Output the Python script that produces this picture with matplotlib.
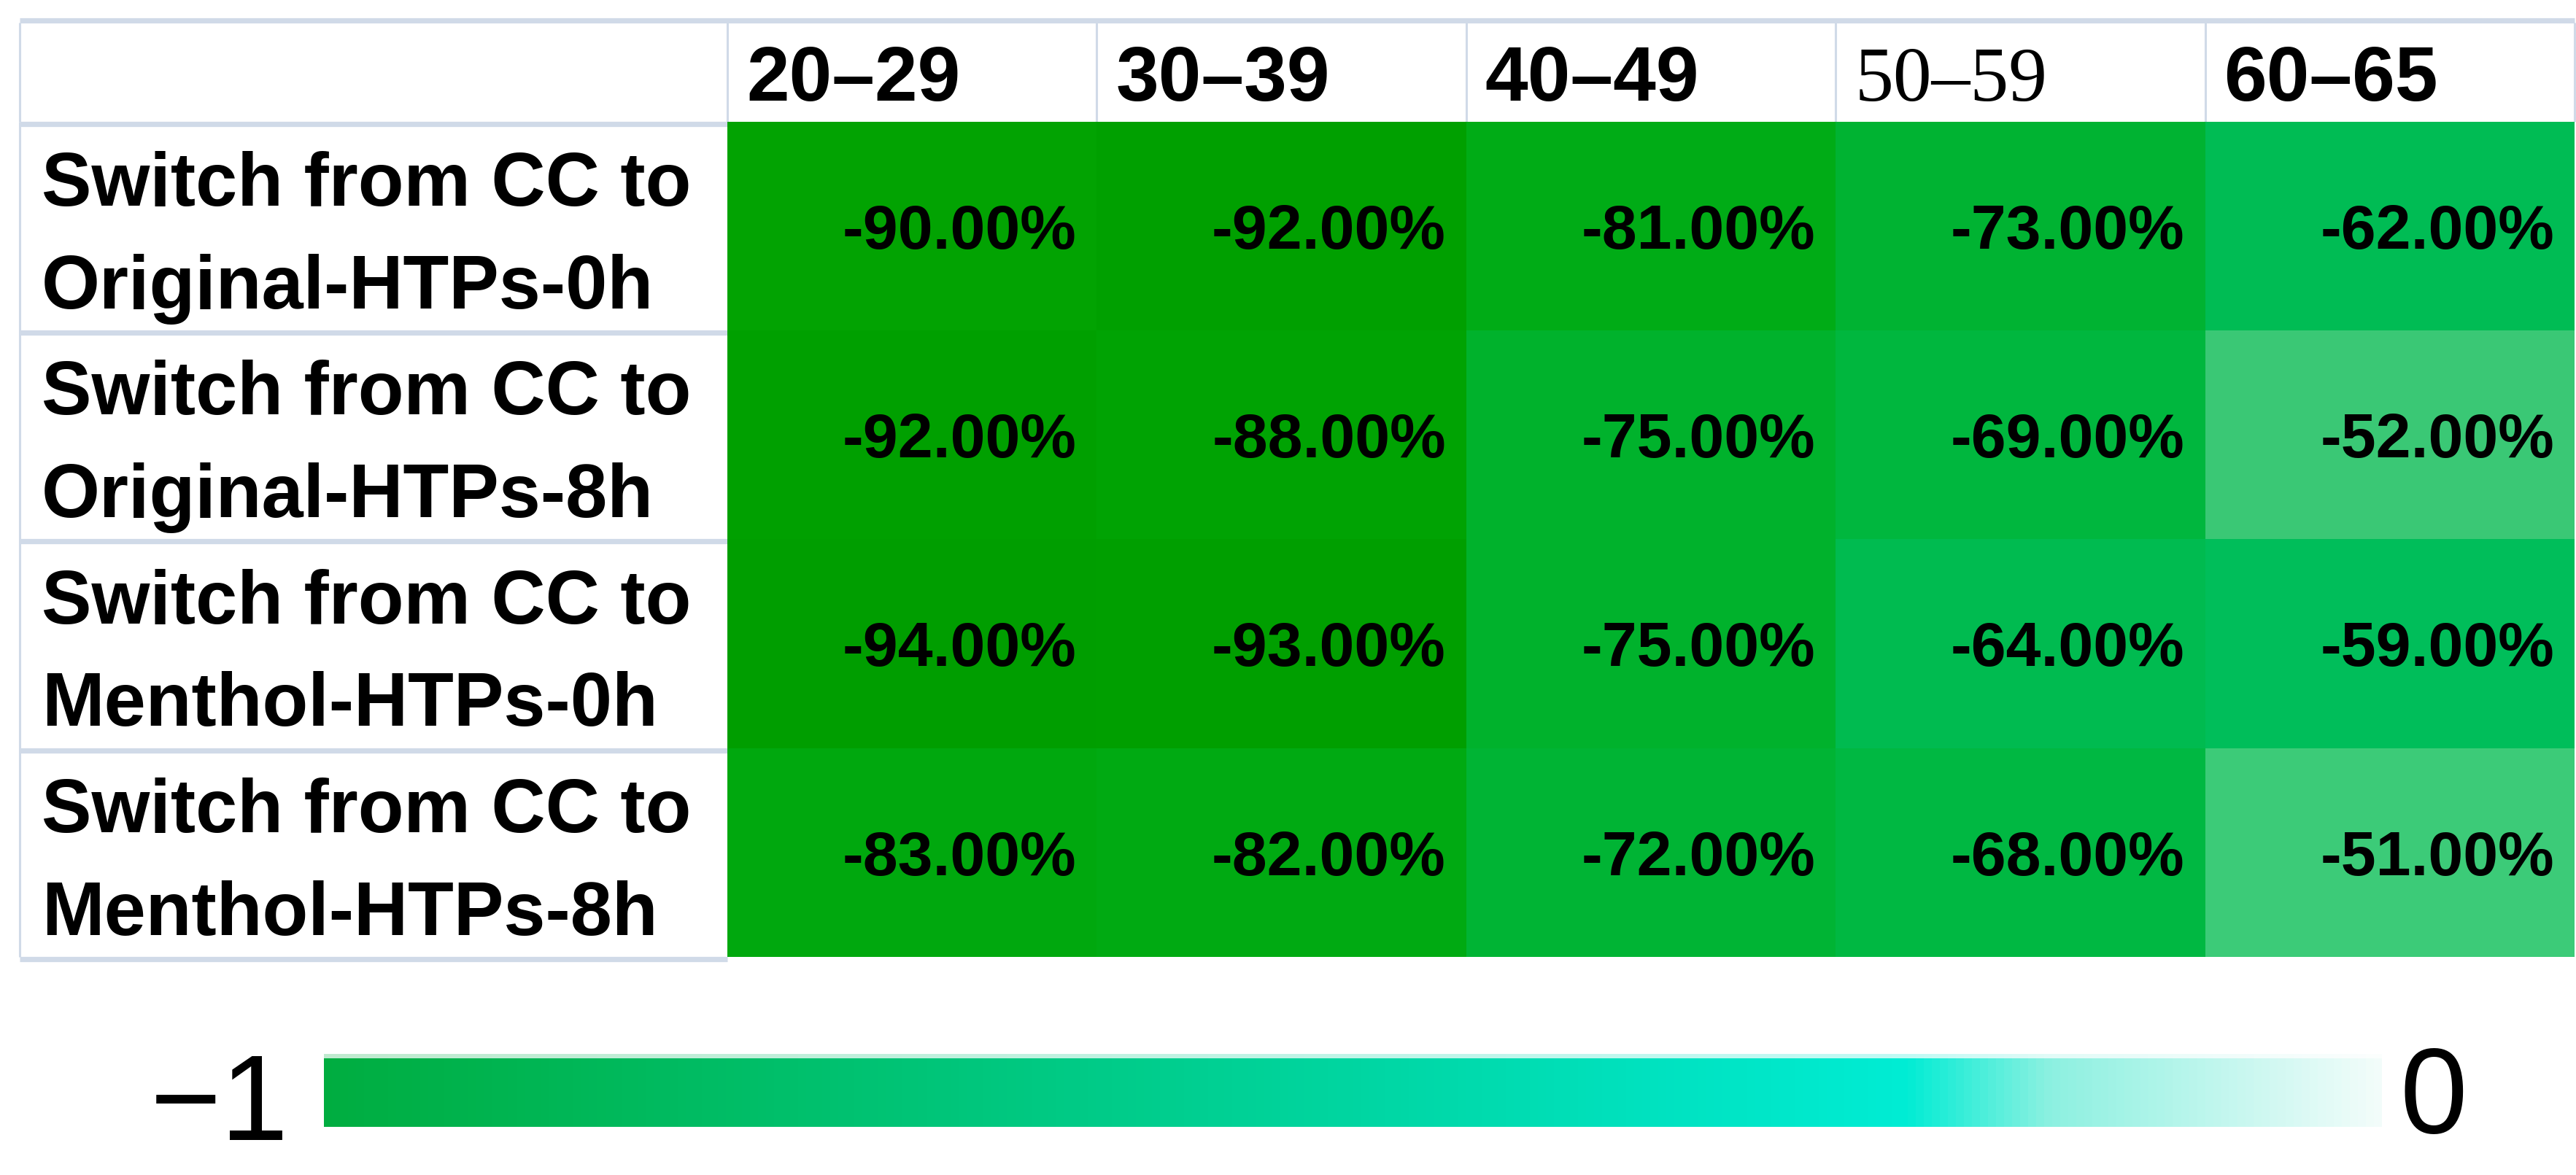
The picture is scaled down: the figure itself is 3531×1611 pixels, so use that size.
import numpy as np
import matplotlib
matplotlib.use("Agg")
import matplotlib.pyplot as plt
from matplotlib.colors import LinearSegmentedColormap, Normalize
from matplotlib.cm import ScalarMappable

# data
age_groups = ["20–29", "30–39", "40–49", "50–59", "60–65"]
row_labels = ["Switch from CC to\nOriginal-HTPs-0h",
              "Switch from CC to\nOriginal-HTPs-8h",
              "Switch from CC to\nMenthol-HTPs-0h",
              "Switch from CC to\nMenthol-HTPs-8h"]
orig_0h = [-0.90, -0.92, -0.81, -0.73, -0.62]
orig_8h = [-0.92, -0.88, -0.75, -0.69, -0.52]
menth_0h = [-0.94, -0.93, -0.75, -0.64, -0.59]
menth_8h = [-0.83, -0.82, -0.72, -0.68, -0.51]
values = np.array([orig_0h, orig_8h, menth_0h, menth_8h])

# cell colours (value -> green)
vmin, vmax = -0.94, -0.51
anchors = [(-0.94, (0, 158, 0)), (-0.92, (0, 160, 0)), (-0.90, (2, 163, 2)),
           (-0.88, (0, 163, 3)), (-0.83, (0, 168, 14)),
           (-0.81, (0, 172, 22)), (-0.75, (0, 178, 44)), (-0.72, (0, 180, 52)),
           (-0.68, (0, 184, 66)), (-0.64, (0, 187, 80)), (-0.59, (0, 190, 90)),
           (-0.55, (20, 194, 100)), (-0.52, (58, 200, 116)), (-0.51, (60, 203, 120))]
cell_cmap = LinearSegmentedColormap.from_list(
    "cells", [((v - vmin) / (vmax - vmin), tuple(c / 255 for c in col)) for v, col in anchors])

bar_cmap = LinearSegmentedColormap.from_list(
    "bar", [(0.0, "#00ad40"), (0.4, "#00cd8c"), (0.64, "#00e1be"), (0.77, "#00ecd4"),
            (0.84, "#8cf0e0"), (1.0, "#f2fcfa")])

W, H = 3531, 1611
fig = plt.figure(figsize=(W / 200, H / 200), dpi=200)
ax = fig.add_axes([0, 0, 1, 1])
ax.set_xlim(0, W)
ax.set_ylim(H, 0)
ax.axis("off")

# layout (pixels)
x0, lab_w, col_w = 27, 970, 506.4
y0, head_h, row_h = 31, 136, 286.2
col_edges = x0 + lab_w + col_w * np.arange(len(age_groups) + 1)
row_edges = y0 + head_h + row_h * np.arange(len(row_labels) + 1)
grid = "#d0dae8"

# grid lines
ax.hlines(y0 - 3.5, x0, col_edges[-1], color=grid, lw=2.6, zorder=1)
ax.vlines(np.r_[x0, col_edges], y0, row_edges[0], color=grid, lw=1.1, zorder=1)
ax.vlines(x0, row_edges[0], row_edges[-1], color=grid, lw=1.1, zorder=1)
ax.hlines(row_edges + 3, x0, col_edges[0], color=grid, lw=2.6, zorder=1)

ax.pcolormesh(col_edges, row_edges, values, cmap=cell_cmap,
              norm=Normalize(vmin, vmax), zorder=2)

font = "Liberation Sans"
for j, g in enumerate(age_groups):
    fam = "Liberation Serif" if g.startswith("50") else font
    wt = "normal" if g.startswith("50") else "bold"
    ax.text(col_edges[j] + 26, y0 + 107, g, ha="left", va="baseline",
            fontsize=38, family=fam, weight=wt, zorder=3)

for i, lab in enumerate(row_labels):
    yc = (row_edges[i] + row_edges[i + 1]) / 2
    l1, l2 = lab.split("\n")
    ax.text(x0 + 30, yc - 28, l1, ha="left", va="baseline", fontsize=37,
            family=font, weight="bold", zorder=3)
    ax.text(x0 + 30, yc + 113, l2, ha="left", va="baseline", fontsize=37,
            family=font, weight="bold", zorder=3)
    for j in range(len(age_groups)):
        ax.text(col_edges[j + 1] - 28, yc + 31, f"{values[i, j] * 100:.2f}%",
                ha="right", va="baseline", fontsize=31, family=font,
                weight="bold", zorder=3)

# colour bar
cb_l, cb_r, cb_t, cb_b = 444, 3265, 1451, 1545
cax = fig.add_axes([cb_l / W, 1 - cb_b / H, (cb_r - cb_l) / W, (cb_b - cb_t) / H])
cb = fig.colorbar(ScalarMappable(norm=Normalize(-1, 0), cmap=bar_cmap), cax=cax,
                  orientation="horizontal")
cb.outline.set_visible(False)
cax.set_xticks([])
cax_top = fig.add_axes([cb_l / W, 1 - cb_t / H, (cb_r - cb_l) / W, 6 / H])
cb2 = fig.colorbar(ScalarMappable(norm=Normalize(-1, 0), cmap=bar_cmap), cax=cax_top,
                   orientation="horizontal", alpha=0.25)
cb2.outline.set_visible(False)
cax_top.set_xticks([])

ax.text(396, 1563, "−1", ha="right", va="baseline", fontsize=60,
        family=font, zorder=3)
ax.text(3290, 1553, "0", ha="left", va="baseline", fontsize=60,
        family=font, zorder=3)

fig.savefig("out.png", dpi=200)
